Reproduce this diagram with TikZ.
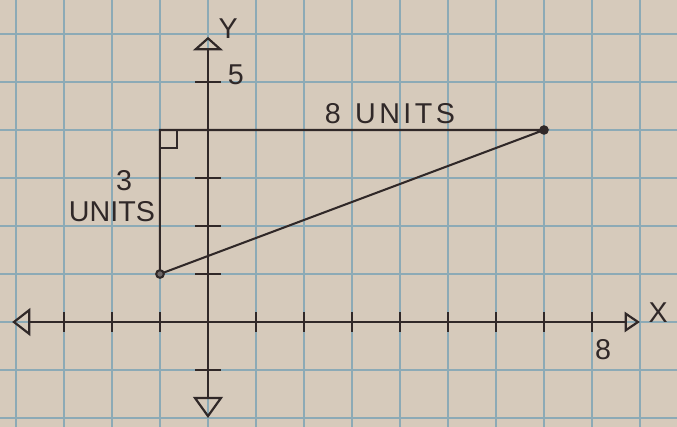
\documentclass[tikz,border=0pt]{standalone}
\usepackage{fontspec}
\setmainfont{Liberation Sans}
\usetikzlibrary{arrows.meta}
\definecolor{paper}{RGB}{214,202,187}
\definecolor{gridblue}{RGB}{140,170,182}
\definecolor{ink}{RGB}{48,40,40}
\begin{document}
\begin{tikzpicture}[x=1cm,y=1cm,
  axis/.style={ink, line width=1.5pt},
  tickmark/.style={ink,line width=1.3pt},
  leg/.style={ink,line width=1.2pt},
  lbl/.style={ink,font=\fontsize{17}{19}\selectfont,inner sep=0pt}]
\fill[paper] (-4.333,-2.1875) rectangle (9.771,6.708);
\useasboundingbox (-4.333,-2.1875) rectangle (9.771,6.708);
\draw[gridblue,line width=1.1pt] (-4.333,-2.1875) grid (9.771,6.708);
% axes
\coordinate (o) at (0,0);
\coordinate (xl) at (-4.08,0);
\coordinate (xr) at (9.0,0);
\coordinate (yb) at (0,-2.0);
\coordinate (yt) at (0,5.94);
\draw[axis,-{Triangle[open,length=0.38cm,width=0.58cm,line width=1.3pt]}] (o) -- (xl);
\draw[axis,-{Triangle[open,length=0.32cm,width=0.42cm,line width=1.3pt]}] (o) -- (xr);
\draw[axis,-{Triangle[open,length=0.44cm,width=0.62cm,line width=1.3pt]}] (o) -- (yb);
\draw[axis,-{Triangle[open,length=0.28cm,width=0.62cm,line width=1.3pt]}] (o) -- (yt);
\foreach \x in {-3,-2,-1,1,2,...,8} \draw[tickmark] (\x,-0.2) -- (\x,0.2);
\foreach \y in {-1,1,2,3,4,5} \draw[tickmark] (-0.27,\y) -- (0.27,\y);
% triangle
\coordinate (A) at (-1,1);
\coordinate (B) at (-1,4);
\coordinate (C) at (7,4);
\draw[leg] (A) -- (B) -- (C) -- cycle;
\draw[leg] (B) ++(0.35,0) |- ++(-0.35,-0.38);
\fill[ink] (C) circle (0.1);
\draw[ink,line width=1.2pt,fill=ink!70] (A) circle (0.08);
% labels
\node[lbl] (ylab) at (0.42,6.12) {Y};
\node[lbl] (five) at (0.58,5.15) {5};
\node[lbl] (top) at (3.79,4.35) {8\hspace{0.3cm}{\addfontfeature{LetterSpace=12}UNITS}};
\node[lbl] (three) at (-1.75,2.94) {3};
\node[lbl] (units) at (-2.0,2.29) {UNITS};
\node[lbl] (eight) at (8.23,-0.58) {8};
\node[lbl] (xlab) at (9.38,0.19) {X};
\end{tikzpicture}
\end{document}
